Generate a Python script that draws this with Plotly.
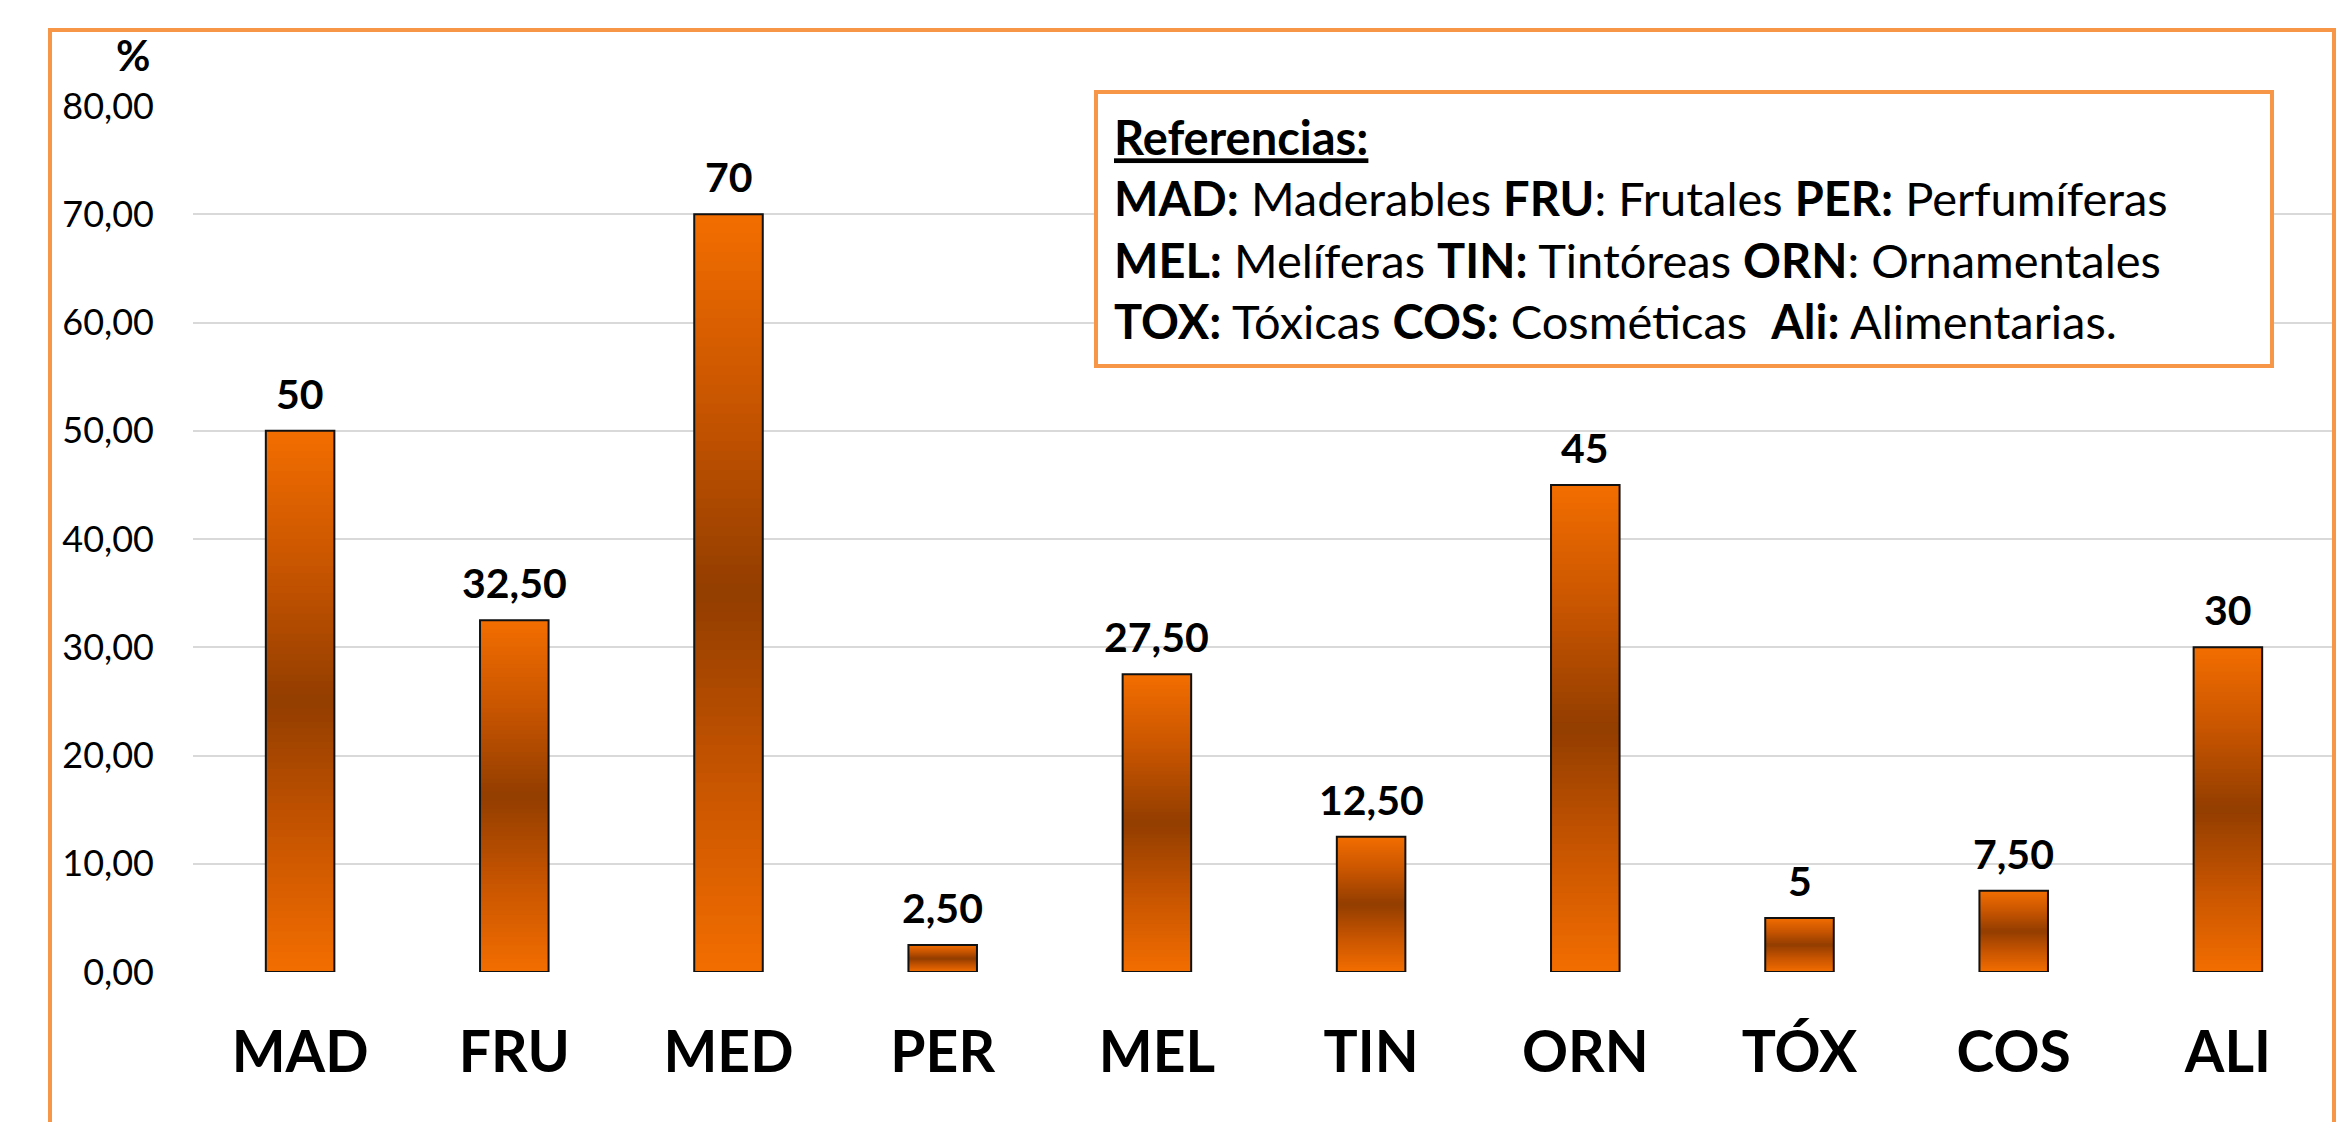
import plotly.graph_objects as go
from plotly.colors import sample_colorscale

# ---- data ----
categories = ["MAD", "FRU", "MED", "PER", "MEL", "TIN", "ORN", "TÓX", "COS", "ALI"]
values = [50, 32.5, 70, 2.5, 27.5, 12.5, 45, 5, 7.5, 30]
value_labels = ["50", "32,50", "70", "2,50", "27,50", "12,50", "45", "5", "7,50", "30"]
y_tickvals = [0, 10, 20, 30, 40, 50, 60, 70, 80]
y_ticktext = ["0,00", "10,00", "20,00", "30,00", "40,00", "50,00", "60,00", "70,00", "80,00"]

FONT = "Lato"
ORANGE_BORDER = "#F79646"
BAR_W = 0.32
N_LAYERS = 40
grad_scale = [[0.0, "#F26D00"], [0.5, "#C85500"], [1.0, "#943E00"]]

# page body has an 8px margin; plot area target in page px: x 193..2335, y 106..972
PL, PR, PT, PB = 193, 2335, 106, 972
OFF = 8
W, H = 2349, 1122
pw, ph = PR - PL, PB - PT


def px(xp):
    return (xp - PL) / pw


def py(yp):
    return (PB - yp) / ph


fig = go.Figure()

# gradient bars: nested shrinking layers of each value (dark in the middle)
for k in range(N_LAYERS):
    t = k / (N_LAYERS - 1)
    col = sample_colorscale(grad_scale, [t])[0]
    frac = k / N_LAYERS
    fig.add_trace(go.Bar(
        x=categories,
        y=[v * (1 - frac) for v in values],
        base=[v * frac / 2 for v in values],
        width=BAR_W,
        marker=dict(color=col, line=dict(width=0)),
        showlegend=False,
        hoverinfo="skip",
    ))

# outline bars
fig.add_trace(go.Bar(
    x=categories,
    y=values,
    width=BAR_W,
    marker=dict(color="rgba(0,0,0,0)", line=dict(color="#111111", width=2)),
    showlegend=False,
))

# value labels
for c, v, lab in zip(categories, values, value_labels):
    fig.add_annotation(
        x=c, y=v, text=lab, showarrow=False,
        xanchor="center", yanchor="bottom", yshift=11,
        font=dict(family=FONT, size=41, color="black", weight="bold"),
    )

# "%" axis caption
fig.add_annotation(
    xref="paper", yref="paper", x=px(133), y=py(55),
    text="<b>%</b>", showarrow=False, xanchor="center", yanchor="middle",
    font=dict(family=FONT, size=42, color="black"),
)

# reference box
ref_text = (
    "<b><u>Referencias:</u></b><br>"
    "<b>MAD:</b> Maderables <b>FRU</b>: Frutales <b>PER:</b> Perfumíferas<br>"
    "<b>MEL:</b> Melíferas <b>TIN:</b> Tintóreas <b>ORN</b>: Ornamentales<br>"
    "<b>TOX:</b> Tóxicas <b>COS:</b> Cosméticas\u00a0 <b>Ali:</b> Alimentarias."
)
fig.add_annotation(
    xref="paper", yref="paper", x=px(1094), y=py(90),
    xanchor="left", yanchor="top", showarrow=False,
    text=ref_text, align="left", valign="middle",
    width=1140, height=238,
    bordercolor=ORANGE_BORDER, borderwidth=4, borderpad=16, bgcolor="white",
    font=dict(family=FONT, size=47, color="black"),
)

# outer chart border (bottom edge lies below the visible canvas)
fig.add_shape(
    type="rect", xref="paper", yref="paper",
    x0=px(50), x1=px(2334), y0=py(1160), y1=py(30),
    line=dict(color=ORANGE_BORDER, width=4), fillcolor="rgba(0,0,0,0)",
    layer="above",
)

fig.update_layout(
    width=W, height=H,
    margin=dict(l=PL - OFF, r=W - (PR - OFF), t=PT - OFF, b=H - (PB - OFF)),
    paper_bgcolor="white", plot_bgcolor="white",
    barmode="overlay",
    showlegend=False,
    font=dict(family=FONT, color="black"),
)
fig.update_xaxes(
    range=[-0.5, 9.5], showgrid=False, showline=False, zeroline=False,
    ticks="", tickfont=dict(family=FONT, size=57, color="black", weight="bold"),
    ticklabelstandoff=42,
)
fig.update_yaxes(
    range=[0, 80], tickvals=y_tickvals, ticktext=y_ticktext,
    showgrid=True, gridcolor="#D9D9D9", gridwidth=2,
    zeroline=False, showline=False, ticks="",
    tickfont=dict(family=FONT, size=36, color="black"),
    ticklabelstandoff=38,
)

fig.write_html("out.html")
